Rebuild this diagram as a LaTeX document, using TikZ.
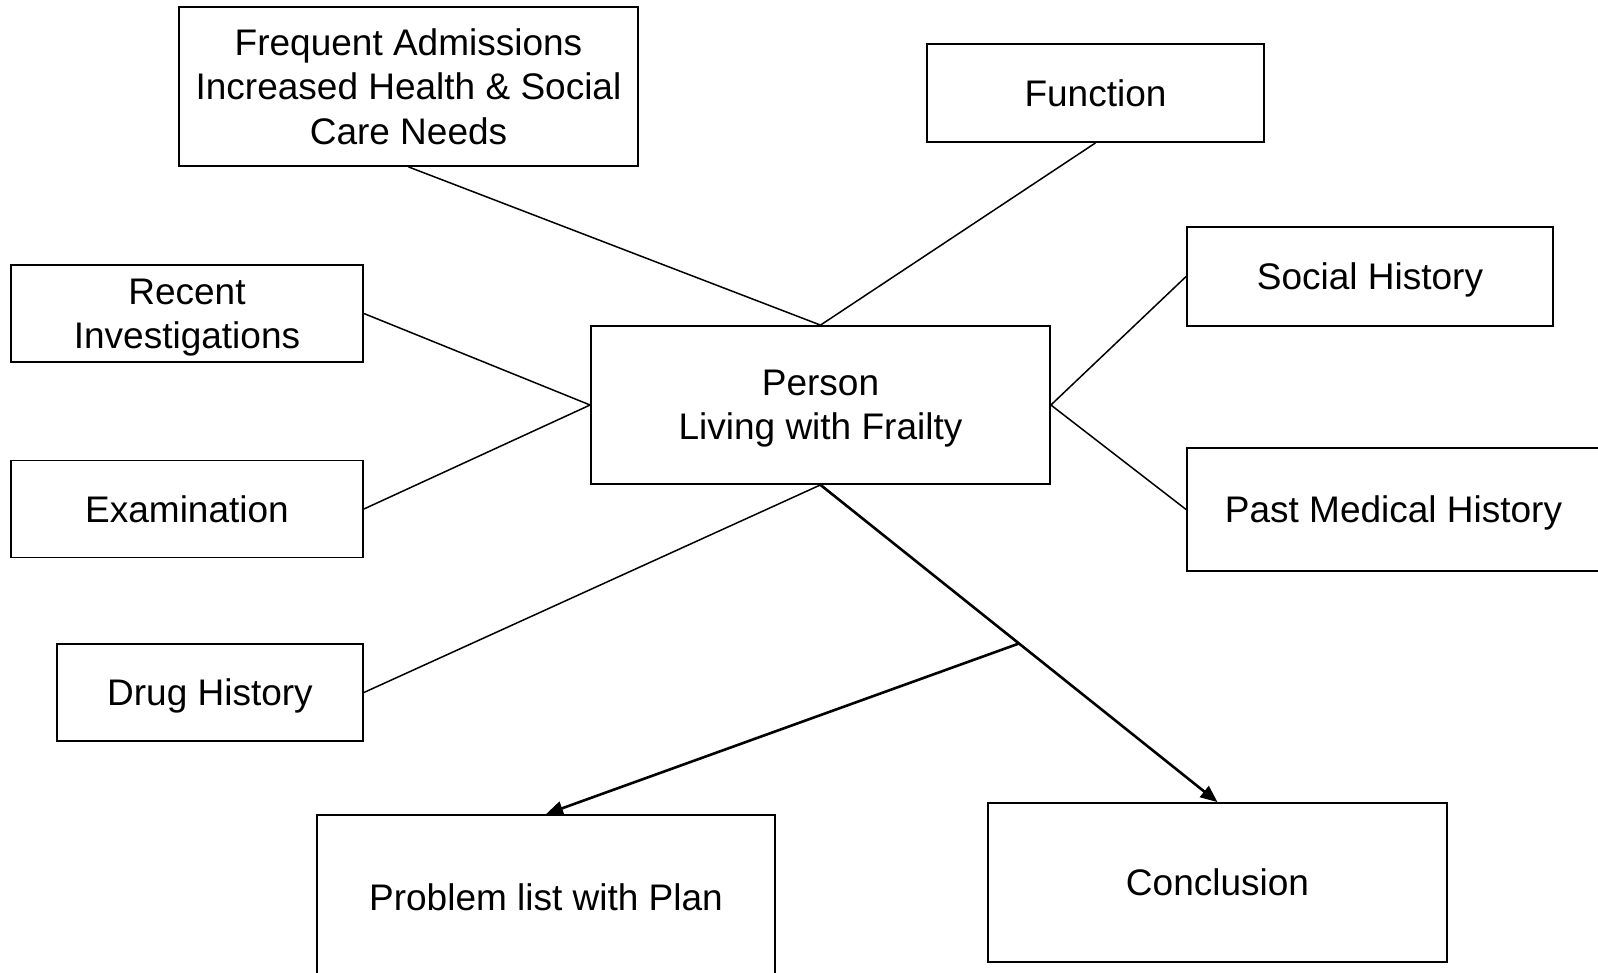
\documentclass[tikz,border=0pt]{standalone}
\usepackage{fontspec}
\setmainfont{Liberation Sans}
\usetikzlibrary{arrows.meta}
\begin{document}
\begin{tikzpicture}[x=1pt,y=-1pt,
  box/.style={draw=black,line width=1.8pt,fill=white,inner sep=0pt,align=center,text depth=0pt,
    font=\fontsize{37}{44.3}\selectfont},
  link/.style={draw=black,line width=1.5pt},
  arr/.style={draw=black,line width=2.6pt,-{Triangle[length=17pt,width=14pt]}}]
\useasboundingbox (0,0) rectangle (1598,972);
\fill[white] (0,0) rectangle (1598,972);
\node[box,minimum width=459pt,minimum height=159pt] (freq) at (408.5,86.5) {Frequent Admissions\\Increased Health \& Social\\Care Needs};
\node[box,minimum width=337pt,minimum height=98pt] (func) at (1095.5,93) {Function};
\node[box,minimum width=366pt,minimum height=99pt] (soc) at (1370,276.5) {Social History};
\node[box,minimum width=413pt,minimum height=123pt] (pmh) at (1393.5,509.5) {Past Medical History};
\node[box,minimum width=459pt,minimum height=158pt] (per) at (820.5,405) {Person\\Living with Frailty};
\node[box,minimum width=352pt,minimum height=97pt] (inv) at (187,313.5) {Recent\\Investigations};
\node[box,minimum width=352pt,minimum height=97pt] (exam) at (187,509) {Examination};
\node[box,minimum width=306pt,minimum height=97pt] (drug) at (210,692.5) {Drug History};
\node[box,minimum width=458pt,minimum height=164pt] (prob) at (546,897) {Problem list with Plan};
\node[box,minimum width=459pt,minimum height=159pt] (conc) at (1217.5,882.5) {Conclusion};
\draw[link] (freq.south) -- (per.north);
\draw[link] (func.south) -- (per.north);
\draw[link] (inv.east) -- (per.west);
\draw[link] (exam.east) -- (per.west);
\draw[link] (drug.east) -- (per.south);
\draw[link] (soc.west) -- (per.east);
\draw[link] (pmh.west) -- (per.east);
\draw[arr] (per.south) -- coordinate[pos=0.5] (j) (conc.north);
\draw[arr] (j) -- (prob.north);
\end{tikzpicture}
\end{document}
